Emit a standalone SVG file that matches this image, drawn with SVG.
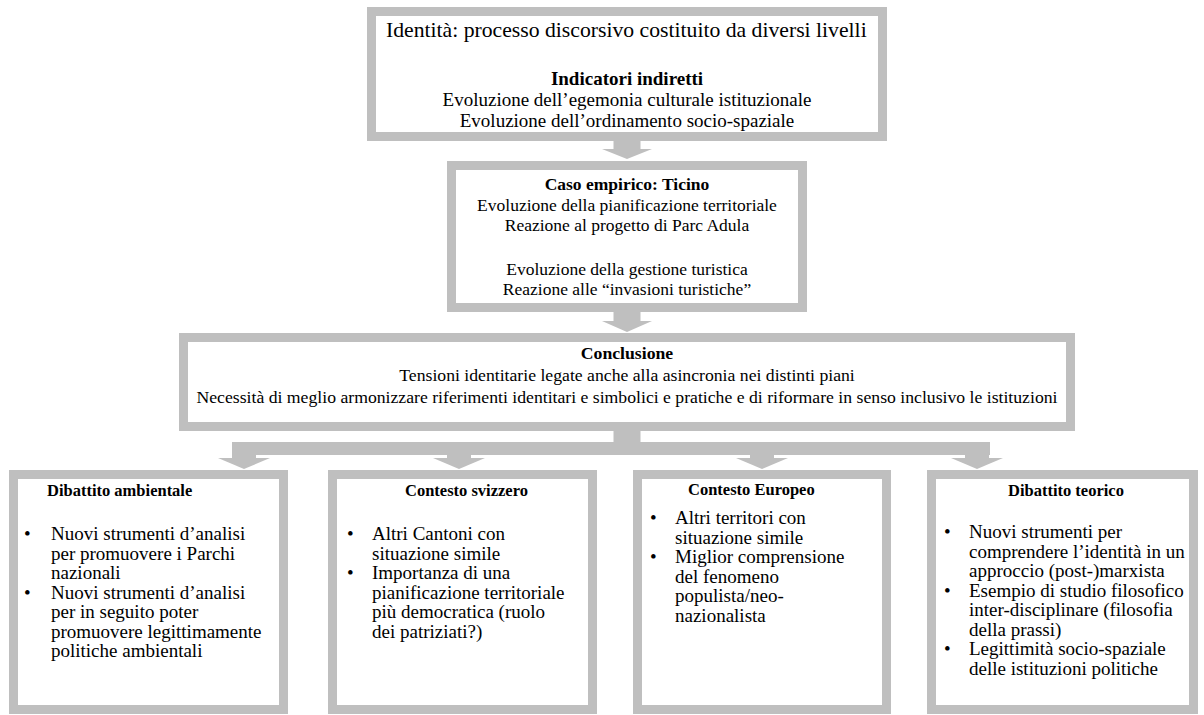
<svg xmlns="http://www.w3.org/2000/svg" width="1204" height="715" viewBox="0 0 1204 715">
<style>
.bx{fill:#fff;stroke:#bfbfbf;stroke-width:9}
.t{font-family:"Liberation Serif","Times New Roman",serif;fill:#000}
.b{font-weight:bold}
.c{text-anchor:middle}
.arr{fill:#bfbfbf}
.s21{font-size:21.7px}
.s18{font-size:19px}
.s17{font-size:17.5px}
.s177{font-size:17.7px}
.s19{font-size:19px}
.s16{font-size:16.5px}
</style>
<rect width="1204" height="715" fill="#fff"/>
<g id="connectors">
<polygon class="arr" points="613.5,141 640.5,141 640.5,149 652,149 627,159 602,149 613.5,149"/>
<polygon class="arr" points="613.5,312 640.5,312 640.5,321 652,321 627,332 602,321 613.5,321"/>
<rect class="arr" x="613.5" y="431" width="27" height="13"/>
<rect class="arr" x="232" y="442" width="758" height="13"/>
<rect class="arr" x="232" y="454" width="24" height="5"/>
<polygon class="arr" points="218,458 270,458 244,469"/>
<rect class="arr" x="447" y="454" width="24" height="5"/>
<polygon class="arr" points="433,458 485,458 459,469"/>
<rect class="arr" x="750" y="454" width="24" height="5"/>
<polygon class="arr" points="736,458 788,458 762,469"/>
<rect class="arr" x="965" y="454" width="24" height="5"/>
<polygon class="arr" points="951,458 1003,458 977,469"/>
</g>
<g id="identita">
<rect class="bx" x="371.5" y="11.5" width="511" height="125"/>
<text class="t s21" x="386" y="37">Identità: processo discorsivo costituito da diversi livelli</text>
<text class="t s18 b c" x="627" y="85">Indicatori indiretti</text>
<text class="t s18 c" x="627" y="106">Evoluzione dell’egemonia culturale istituzionale</text>
<text class="t s18 c" x="627" y="127">Evoluzione dell’ordinamento socio-spaziale</text>
</g>
<g id="ticino">
<rect class="bx" x="451.5" y="165.5" width="351" height="142"/>
<text class="t s17 b c" x="627" y="190">Caso empirico: Ticino</text>
<text class="t s17 c" x="627" y="211">Evoluzione della pianificazione territoriale</text>
<text class="t s17 c" x="627" y="231">Reazione al progetto di Parc Adula</text>
<text class="t s17 c" x="627" y="275">Evoluzione della gestione turistica</text>
<text class="t s17 c" x="627" y="295">Reazione alle “invasioni turistiche”</text>
</g>
<g id="conclusione">
<rect class="bx" x="183.5" y="337.5" width="887" height="89"/>
<text class="t s177 b c" x="627" y="359">Conclusione</text>
<text class="t s177 c" x="627" y="381">Tensioni identitarie legate anche alla asincronia nei distinti piani</text>
<text class="t s177 c" x="627" y="403">Necessità di meglio armonizzare riferimenti identitari e simbolici e pratiche e di riformare in senso inclusivo le istituzioni</text>
</g>
<g id="ambientale">
<rect class="bx" x="13.5" y="474.5" width="270" height="235"/>
<text class="t s16 b" x="47" y="496">Dibattito ambientale</text>
<text class="t s19" x="24" y="540">•</text>
<text class="t s19" x="51" y="540">Nuovi strumenti d’analisi</text>
<text class="t s19" x="51" y="559.5">per promuovere i Parchi</text>
<text class="t s19" x="51" y="579">nazionali</text>
<text class="t s19" x="24" y="598.5">•</text>
<text class="t s19" x="51" y="598.5">Nuovi strumenti d’analisi</text>
<text class="t s19" x="51" y="618">per in seguito poter</text>
<text class="t s19" x="51" y="637.5">promuovere legittimamente</text>
<text class="t s19" x="51" y="657">politiche ambientali</text>
</g>
<g id="svizzero">
<rect class="bx" x="332.5" y="474.5" width="260" height="235"/>
<text class="t s16 b" x="405" y="496">Contesto svizzero</text>
<text class="t s19" x="347" y="540">•</text>
<text class="t s19" x="372" y="540">Altri Cantoni con</text>
<text class="t s19" x="372" y="559.5">situazione simile</text>
<text class="t s19" x="347" y="579">•</text>
<text class="t s19" x="372" y="579">Importanza di una</text>
<text class="t s19" x="372" y="598.5">pianificazione territoriale</text>
<text class="t s19" x="372" y="618">più democratica (ruolo</text>
<text class="t s19" x="372" y="637.5">dei patriziati?)</text>
</g>
<g id="europeo">
<rect class="bx" x="637.5" y="474.5" width="249" height="235"/>
<text class="t s16 b" x="688" y="495">Contesto Europeo</text>
<text class="t s19" x="650" y="524">•</text>
<text class="t s19" x="675" y="524">Altri territori con</text>
<text class="t s19" x="675" y="543.5">situazione simile</text>
<text class="t s19" x="650" y="563">•</text>
<text class="t s19" x="675" y="563">Miglior comprensione</text>
<text class="t s19" x="675" y="582.5">del fenomeno</text>
<text class="t s19" x="675" y="602">populista/neo-</text>
<text class="t s19" x="675" y="621.5">nazionalista</text>
</g>
<g id="teorico">
<rect class="bx" x="931.5" y="474.5" width="262" height="235"/>
<text class="t s16 b" x="1008" y="496">Dibattito teorico</text>
<text class="t s19" x="944" y="538">•</text>
<text class="t s19" x="969" y="538">Nuovi strumenti per</text>
<text class="t s19" x="969" y="557.5">comprendere l’identità in un</text>
<text class="t s19" x="969" y="577">approccio (post-)marxista</text>
<text class="t s19" x="944" y="596.5">•</text>
<text class="t s19" x="969" y="596.5">Esempio di studio filosofico</text>
<text class="t s19" x="969" y="616">inter-disciplinare (filosofia</text>
<text class="t s19" x="969" y="635.5">della prassi)</text>
<text class="t s19" x="944" y="655">•</text>
<text class="t s19" x="969" y="655">Legittimità socio-spaziale</text>
<text class="t s19" x="969" y="674.5">delle istituzioni politiche</text>
</g>
</svg>
